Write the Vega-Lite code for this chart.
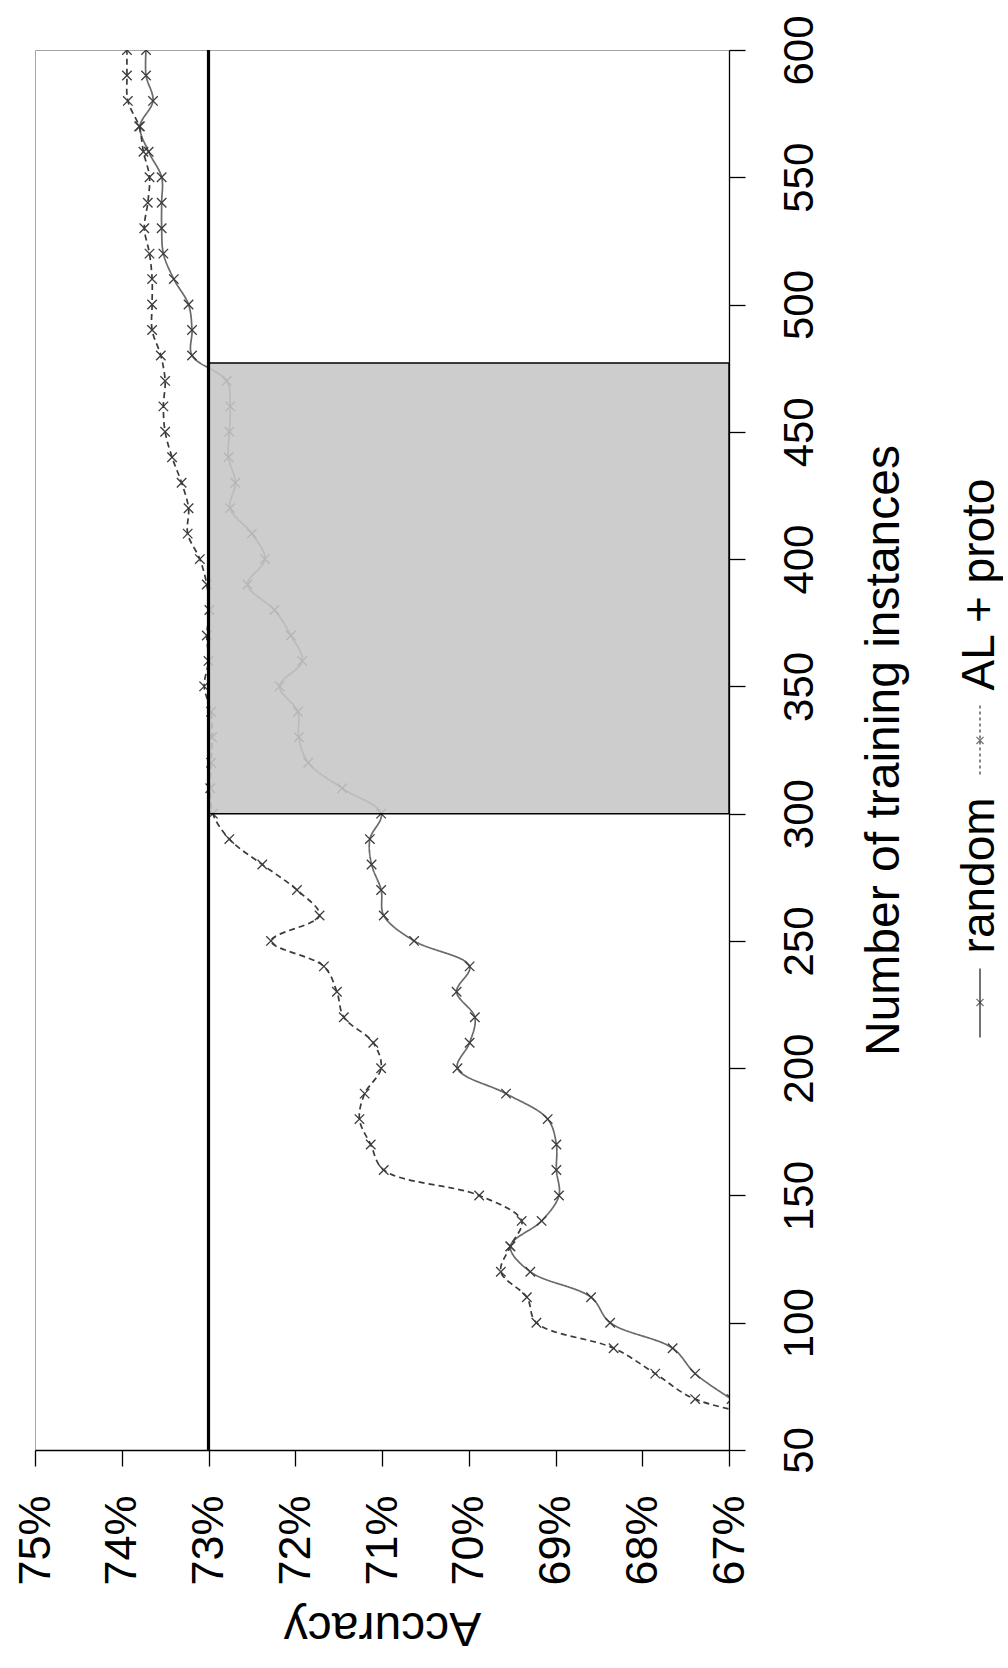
{
  "$schema": "https://vega.github.io/schema/vega-lite/v6.json",
  "background": "white",
  "padding": {"left": 12, "top": 14, "right": 0, "bottom": 30},
  "spacing": 48,
  "config": {"font": "Liberation Sans", "view": {"stroke": "#a6a6a6"}},
  "datasets": {
    "curves": [
      {"instances": 70, "accuracy": 66.97, "series": "random"},
      {"instances": 80, "accuracy": 67.39, "series": "random"},
      {"instances": 90, "accuracy": 67.65, "series": "random"},
      {"instances": 100, "accuracy": 68.37, "series": "random"},
      {"instances": 110, "accuracy": 68.59, "series": "random"},
      {"instances": 120, "accuracy": 69.29, "series": "random"},
      {"instances": 130, "accuracy": 69.52, "series": "random"},
      {"instances": 140, "accuracy": 69.16, "series": "random"},
      {"instances": 150, "accuracy": 68.96, "series": "random"},
      {"instances": 160, "accuracy": 68.99, "series": "random"},
      {"instances": 170, "accuracy": 68.99, "series": "random"},
      {"instances": 180, "accuracy": 69.09, "series": "random"},
      {"instances": 190, "accuracy": 69.57, "series": "random"},
      {"instances": 200, "accuracy": 70.13, "series": "random"},
      {"instances": 210, "accuracy": 69.99, "series": "random"},
      {"instances": 220, "accuracy": 69.93, "series": "random"},
      {"instances": 230, "accuracy": 70.14, "series": "random"},
      {"instances": 240, "accuracy": 69.99, "series": "random"},
      {"instances": 250, "accuracy": 70.63, "series": "random"},
      {"instances": 260, "accuracy": 70.98, "series": "random"},
      {"instances": 270, "accuracy": 71.01, "series": "random"},
      {"instances": 280, "accuracy": 71.12, "series": "random"},
      {"instances": 290, "accuracy": 71.14, "series": "random"},
      {"instances": 300, "accuracy": 71.01, "series": "random"},
      {"instances": 310, "accuracy": 71.46, "series": "random"},
      {"instances": 320, "accuracy": 71.85, "series": "random"},
      {"instances": 330, "accuracy": 71.96, "series": "random"},
      {"instances": 340, "accuracy": 71.97, "series": "random"},
      {"instances": 350, "accuracy": 72.18, "series": "random"},
      {"instances": 360, "accuracy": 71.92, "series": "random"},
      {"instances": 370, "accuracy": 72.05, "series": "random"},
      {"instances": 380, "accuracy": 72.24, "series": "random"},
      {"instances": 390, "accuracy": 72.55, "series": "random"},
      {"instances": 400, "accuracy": 72.35, "series": "random"},
      {"instances": 410, "accuracy": 72.5, "series": "random"},
      {"instances": 420, "accuracy": 72.75, "series": "random"},
      {"instances": 430, "accuracy": 72.69, "series": "random"},
      {"instances": 440, "accuracy": 72.77, "series": "random"},
      {"instances": 450, "accuracy": 72.76, "series": "random"},
      {"instances": 460, "accuracy": 72.75, "series": "random"},
      {"instances": 470, "accuracy": 72.79, "series": "random"},
      {"instances": 480, "accuracy": 73.19, "series": "random"},
      {"instances": 490, "accuracy": 73.19, "series": "random"},
      {"instances": 500, "accuracy": 73.23, "series": "random"},
      {"instances": 510, "accuracy": 73.4, "series": "random"},
      {"instances": 520, "accuracy": 73.52, "series": "random"},
      {"instances": 530, "accuracy": 73.54, "series": "random"},
      {"instances": 540, "accuracy": 73.54, "series": "random"},
      {"instances": 550, "accuracy": 73.54, "series": "random"},
      {"instances": 560, "accuracy": 73.69, "series": "random"},
      {"instances": 570, "accuracy": 73.79, "series": "random"},
      {"instances": 580, "accuracy": 73.64, "series": "random"},
      {"instances": 590, "accuracy": 73.72, "series": "random"},
      {"instances": 600, "accuracy": 73.72, "series": "random"},
      {"instances": 60, "accuracy": 66.1, "series": "AL + proto"},
      {"instances": 70, "accuracy": 67.39, "series": "AL + proto"},
      {"instances": 80, "accuracy": 67.85, "series": "AL + proto"},
      {"instances": 90, "accuracy": 68.33, "series": "AL + proto"},
      {"instances": 100, "accuracy": 69.22, "series": "AL + proto"},
      {"instances": 110, "accuracy": 69.33, "series": "AL + proto"},
      {"instances": 120, "accuracy": 69.63, "series": "AL + proto"},
      {"instances": 130, "accuracy": 69.52, "series": "AL + proto"},
      {"instances": 140, "accuracy": 69.39, "series": "AL + proto"},
      {"instances": 150, "accuracy": 69.88, "series": "AL + proto"},
      {"instances": 160, "accuracy": 70.98, "series": "AL + proto"},
      {"instances": 170, "accuracy": 71.13, "series": "AL + proto"},
      {"instances": 180, "accuracy": 71.26, "series": "AL + proto"},
      {"instances": 190, "accuracy": 71.2, "series": "AL + proto"},
      {"instances": 200, "accuracy": 71.01, "series": "AL + proto"},
      {"instances": 210, "accuracy": 71.1, "series": "AL + proto"},
      {"instances": 220, "accuracy": 71.44, "series": "AL + proto"},
      {"instances": 230, "accuracy": 71.52, "series": "AL + proto"},
      {"instances": 240, "accuracy": 71.67, "series": "AL + proto"},
      {"instances": 250, "accuracy": 72.28, "series": "AL + proto"},
      {"instances": 260, "accuracy": 71.72, "series": "AL + proto"},
      {"instances": 270, "accuracy": 71.98, "series": "AL + proto"},
      {"instances": 280, "accuracy": 72.38, "series": "AL + proto"},
      {"instances": 290, "accuracy": 72.76, "series": "AL + proto"},
      {"instances": 300, "accuracy": 72.95, "series": "AL + proto"},
      {"instances": 310, "accuracy": 72.98, "series": "AL + proto"},
      {"instances": 320, "accuracy": 72.97, "series": "AL + proto"},
      {"instances": 330, "accuracy": 72.96, "series": "AL + proto"},
      {"instances": 340, "accuracy": 72.97, "series": "AL + proto"},
      {"instances": 350, "accuracy": 73.05, "series": "AL + proto"},
      {"instances": 360, "accuracy": 73.0, "series": "AL + proto"},
      {"instances": 370, "accuracy": 73.02, "series": "AL + proto"},
      {"instances": 380, "accuracy": 72.99, "series": "AL + proto"},
      {"instances": 390, "accuracy": 73.02, "series": "AL + proto"},
      {"instances": 400, "accuracy": 73.1, "series": "AL + proto"},
      {"instances": 410, "accuracy": 73.24, "series": "AL + proto"},
      {"instances": 420, "accuracy": 73.23, "series": "AL + proto"},
      {"instances": 430, "accuracy": 73.31, "series": "AL + proto"},
      {"instances": 440, "accuracy": 73.42, "series": "AL + proto"},
      {"instances": 450, "accuracy": 73.5, "series": "AL + proto"},
      {"instances": 460, "accuracy": 73.52, "series": "AL + proto"},
      {"instances": 470, "accuracy": 73.5, "series": "AL + proto"},
      {"instances": 480, "accuracy": 73.55, "series": "AL + proto"},
      {"instances": 490, "accuracy": 73.65, "series": "AL + proto"},
      {"instances": 500, "accuracy": 73.65, "series": "AL + proto"},
      {"instances": 510, "accuracy": 73.65, "series": "AL + proto"},
      {"instances": 520, "accuracy": 73.68, "series": "AL + proto"},
      {"instances": 530, "accuracy": 73.74, "series": "AL + proto"},
      {"instances": 540, "accuracy": 73.7, "series": "AL + proto"},
      {"instances": 550, "accuracy": 73.68, "series": "AL + proto"},
      {"instances": 560, "accuracy": 73.75, "series": "AL + proto"},
      {"instances": 570, "accuracy": 73.8, "series": "AL + proto"},
      {"instances": 580, "accuracy": 73.93, "series": "AL + proto"},
      {"instances": 590, "accuracy": 73.94, "series": "AL + proto"},
      {"instances": 600, "accuracy": 73.94, "series": "AL + proto"}
    ],
    "legendItems": [{"series": "AL + proto", "slot": 1}, {"series": "random", "slot": 0}]
  },
  "hconcat": [
    {
      "width": 694,
      "height": 1400,
      "view": {"stroke": "#a6a6a6"},
      "layer": [
        {
          "data": {"name": "curves"},
          "mark": {"type": "line", "interpolate": "catmull-rom", "clip": true, "strokeWidth": 1.7},
          "encoding": {
            "x": {
              "field": "accuracy", "type": "quantitative",
              "scale": {"domain": [67, 75], "reverse": true, "nice": false, "zero": false},
              "axis": {
                "orient": "bottom", "title": "Accuracy",
                "values": [67, 68, 69, 70, 71, 72, 73, 74, 75],
                "labelExpr": "datum.value + '%'",
                "labelAngle": -90, "labelAlign": "right", "labelBaseline": "middle",
                "labelFontSize": 45, "labelPadding": 29, "labelColor": "black",
                "labelOverlap": false, "labelFlush": false,
                "tickSize": 16, "tickColor": "black", "tickWidth": 1.3,
                "domainColor": "black", "domainWidth": 1.3, "grid": false,
                "titleFontSize": 48, "titleFontWeight": "normal", "titleColor": "black",
                "titleAngle": 180, "titleBaseline": "bottom", "titlePadding": 17
              }
            },
            "y": {
              "field": "instances", "type": "quantitative",
              "scale": {"domain": [50, 600], "nice": false, "zero": false},
              "axis": {
                "orient": "right", "title": "Number of training instances",
                "values": [50, 100, 150, 200, 250, 300, 350, 400, 450, 500, 550, 600],
                "labelAngle": -90, "labelAlign": "center", "labelBaseline": "top",
                "labelFontSize": 42, "labelPadding": 34, "labelColor": "black",
                "labelOverlap": false, "labelFlush": false,
                "tickSize": 16, "tickColor": "black", "tickWidth": 1.3,
                "domainColor": "black", "domainWidth": 1.3, "grid": false,
                "titleFontSize": 48, "titleFontWeight": "normal", "titleColor": "black",
                "titleAngle": -90, "titleBaseline": "top", "titlePadding": 40
              }
            },
            "order": {"field": "instances", "type": "quantitative"},
            "color": {"field": "series", "type": "nominal", "scale": {"domain": ["random", "AL + proto"], "range": ["#6a6a6a", "#3a3a3a"]}, "legend": null},
            "strokeDash": {"field": "series", "type": "nominal", "scale": {"domain": ["random", "AL + proto"], "range": [[1, 0], [6, 4]]}, "legend": null}
          }
        },
        {
          "data": {"name": "curves"},
          "mark": {"type": "point", "shape": "M-1,-1L1,1M-1,1L1,-1", "filled": false, "size": 90, "strokeWidth": 1.3, "clip": true, "stroke": "#3c3c3c", "opacity": 1},
          "encoding": {
            "x": {"field": "accuracy", "type": "quantitative"},
            "y": {"field": "instances", "type": "quantitative"}
          }
        },
        {
          "data": {"values": [{}]},
          "mark": {"type": "rect", "fill": "#c6c6c6", "fillOpacity": 0.88, "stroke": "black", "strokeWidth": 1.5},
          "encoding": {
            "x": {"datum": 73, "type": "quantitative"},
            "x2": {"datum": 67},
            "y": {"datum": 300, "type": "quantitative"},
            "y2": {"datum": 477}
          }
        },
        {
          "data": {"values": [{}]},
          "mark": {"type": "rule", "color": "black", "strokeWidth": 3.2},
          "encoding": {"x": {"datum": 73, "type": "quantitative"}}
        }
      ]
    },
    {
      "width": 36,
      "height": 1400,
      "view": {"stroke": null},
      "data": {"name": "legendItems"},
      "encoding": {
        "x": {"datum": 0, "type": "quantitative", "scale": {"domain": [-1, 1]}, "axis": null},
        "y": {"field": "slot", "type": "quantitative", "scale": {"domain": [-1.888, 3.435], "nice": false, "zero": false}, "axis": null}
      },
      "layer": [
        {
          "mark": {"type": "text", "angle": -90, "align": "left", "baseline": "middle", "fontSize": 46, "color": "black"},
          "encoding": {"text": {"field": "series"}}
        },
        {
          "transform": [{"filter": "datum.series == 'random'"}],
          "mark": {"type": "rule", "yOffset": 15, "y2Offset": 84, "strokeWidth": 1.5, "color": "#444"},
          "encoding": {"y2": {"field": "slot"}}
        },
        {
          "transform": [{"filter": "datum.series == 'random'"}],
          "mark": {"type": "point", "yOffset": 49, "shape": "M-1,-1L1,1M-1,1L1,-1", "filled": false, "size": 50, "strokeWidth": 1.2, "stroke": "#333"}
        },
        {
          "transform": [{"filter": "datum.series == 'AL + proto'"}],
          "mark": {"type": "rule", "yOffset": 15, "y2Offset": 85, "strokeWidth": 1.3, "strokeDash": [3, 3], "color": "#444"},
          "encoding": {"y2": {"field": "slot"}}
        },
        {
          "transform": [{"filter": "datum.series == 'AL + proto'"}],
          "mark": {"type": "point", "yOffset": 50, "shape": "M-1,-1L1,1M-1,1L1,-1", "filled": false, "size": 50, "strokeWidth": 1.2, "stroke": "#333"}
        }
      ]
    }
  ]
}
